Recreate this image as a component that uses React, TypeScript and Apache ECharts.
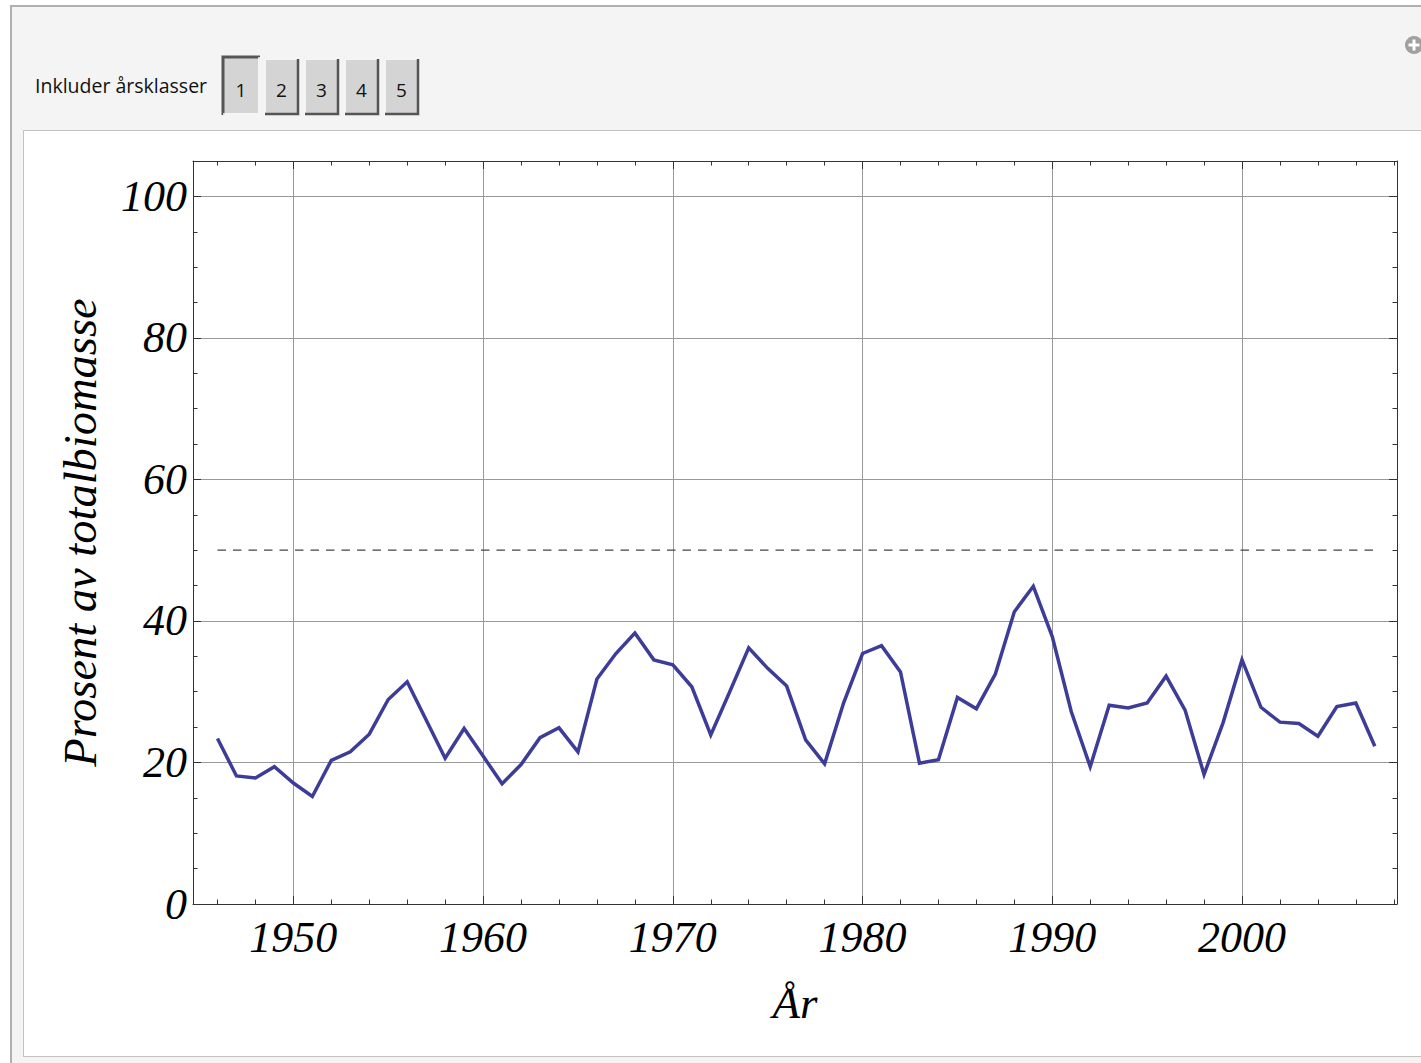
import React, { useEffect, useRef } from "react";
import * as echarts from "echarts";

// ---- data ----
const years = [
  1946, 1947, 1948, 1949, 1950, 1951, 1952, 1953, 1954, 1955, 1956, 1957, 1958, 1959,
  1960, 1961, 1962, 1963, 1964, 1965, 1966, 1967, 1968, 1969, 1970, 1971, 1972, 1973,
  1974, 1975, 1976, 1977, 1978, 1979, 1980, 1981, 1982, 1983, 1984, 1985, 1986, 1987,
  1988, 1989, 1990, 1991, 1992, 1993, 1994, 1995, 1996, 1997, 1998, 1999, 2000, 2001,
  2002, 2003, 2004, 2005, 2006, 2007,
];
const values = [
  23.4, 18.1, 17.8, 19.4, 17.1, 15.2, 20.3, 21.5, 24.0, 28.9, 31.4, 26.0, 20.6, 24.8,
  20.9, 17.0, 19.7, 23.5, 24.9, 21.5, 31.8, 35.4, 38.3, 34.5, 33.8, 30.7, 23.9, 30.0,
  36.2, 33.3, 30.8, 23.2, 19.8, 28.4, 35.4, 36.5, 32.8, 19.9, 20.4, 29.2, 27.6, 32.5,
  41.3, 44.9, 37.8, 27.2, 19.4, 28.1, 27.7, 28.4, 32.2, 27.4, 18.3, 25.6, 34.5, 27.8,
  25.7, 25.5, 23.7, 27.9, 28.4, 22.3,
];
const thresholdYears = [1946, 2007];
const thresholdValue = 50;

const xMajorTicks = [1950, 1960, 1970, 1980, 1990, 2000];
const xMinorTicks = [
  1946, 1948, 1950, 1952, 1954, 1956, 1958, 1960, 1962, 1964, 1966, 1968, 1970, 1972,
  1974, 1976, 1978, 1980, 1982, 1984, 1986, 1988, 1990, 1992, 1994, 1996, 1998, 2000,
  2002, 2004, 2006, 2008,
];
const yMajorTicks = [0, 20, 40, 60, 80, 100];
const yMinorTicks = [
  0, 5, 10, 15, 20, 25, 30, 35, 40, 45, 50, 55, 60, 65, 70, 75, 80, 85, 90, 95, 100,
];
const buttonLabels = ["1", "2", "3", "4", "5"];
const controlLabel = "Inkluder årsklasser";
const xTitle = "År";
const yTitle = "Prosent av totalbiomasse";

const X_MIN = 1944.71;
const X_MAX = 2008.17;
const Y_MIN = 0;
const Y_MAX = 105;

const SERIF = "'Liberation Serif', 'Times New Roman', serif";
const SANS = "'Open Sans', 'Noto Sans', sans-serif";
const FRAME = "#333333";
const GRID = "#999999";

function buildButtons(): any[] {
  const els: any[] = [];
  const xs = [222, 264, 304, 344, 384];
  const ws = [38, 35, 35, 35, 35];
  buttonLabels.forEach((lab, i) => {
    const pressed = i === 0;
    const x = xs[i];
    const w = ws[i];
    const y = pressed ? 56 : 58;
    const h = 115 - y;
    els.push({
      type: "rect",
      shape: { x, y, width: w, height: h },
      style: { fill: "#d4d4d4" },
      z: 1,
    });
    const dark = "#555555";
    const light = "#ffffff";
    els.push({
      type: "polyline",
      shape: { points: [[x + 1, y + h], [x + 1, y + 1], [x + w, y + 1]] },
      style: { stroke: pressed ? dark : light, lineWidth: pressed ? 3 : 1.5, fill: null },
      z: 2,
    });
    els.push({
      type: "polyline",
      shape: { points: [[x + 1, y + h - 1], [x + w - 1, y + h - 1], [x + w - 1, y + 1]] },
      style: { stroke: pressed ? light : dark, lineWidth: pressed ? 1.5 : 2.5, fill: null },
      z: 2,
    });
    els.push({
      type: "text",
      x: x + w / 2,
      y: 89.5,
      style: {
        text: lab,
        fill: "#111",
        font: `19px ${SANS}`,
        align: "center",
        verticalAlign: "middle",
      },
      z: 3,
    });
  });
  return els;
}

export default function App() {
  const ref = useRef<HTMLDivElement>(null);

  useEffect(() => {
    if (!ref.current) return;
    const chart = echarts.init(ref.current, undefined, { renderer: "svg" });

    const lineData = years.map((y, i) => [y, values[i]]);
    const thresholdData = thresholdYears.map((y) => [y, thresholdValue]);

    const tickLabelStyle = {
      fontFamily: SERIF,
      fontStyle: "italic" as const,
      fontSize: 44,
      color: "#000",
      lineHeight: 44,
    };

    const baseX = (position: "top" | "bottom") => ({
      type: "value" as const,
      position,
      min: X_MIN,
      max: X_MAX,
      axisLine: { show: true, onZero: false, lineStyle: { color: FRAME, width: 1 } },
      splitLine: { show: false },
      axisLabel: { show: false },
    });
    const baseY = (position: "left" | "right") => ({
      type: "value" as const,
      position,
      min: Y_MIN,
      max: Y_MAX,
      axisLine: { show: true, onZero: false, lineStyle: { color: FRAME, width: 1 } },
      splitLine: { show: false },
      axisLabel: { show: false },
    });
    const hiddenLine = { show: false, onZero: false };

    const option: any = {
      animation: false,
      backgroundColor: "transparent",
      grid: { left: 193, top: 161, width: 1204, height: 743, containLabel: false },
      graphic: {
        elements: [
          {
            type: "rect",
            shape: { x: 11, y: 6, width: 1500, height: 1200 },
            style: { fill: "#f4f4f4", stroke: "#b0b0b0", lineWidth: 2 },
            z: -100,
            silent: true,
          },
          {
            type: "rect",
            shape: { x: 23.5, y: 130.5, width: 1500, height: 926 },
            style: { fill: "#ffffff", stroke: "#8a8a8a", lineWidth: 1, lineDash: [1, 1] },
            z: -99,
            silent: true,
          },
          {
            type: "text",
            x: 35,
            y: 85.5,
            style: {
              text: controlLabel,
              fill: "#111",
              font: `19.5px ${SANS}`,
              align: "left",
              verticalAlign: "middle",
            },
            z: 3,
          },
          ...buildButtons(),
          {
            type: "circle",
            shape: { cx: 1414, cy: 45, r: 9 },
            style: { fill: "#a0a0a0" },
            z: 3,
          },
          {
            type: "line",
            shape: { x1: 1408.5, y1: 45, x2: 1419.5, y2: 45 },
            style: { stroke: "#fff", lineWidth: 3 },
            z: 4,
          },
          {
            type: "line",
            shape: { x1: 1414, y1: 39.5, x2: 1414, y2: 50.5 },
            style: { stroke: "#fff", lineWidth: 3 },
            z: 4,
          },
        ],
      },
      xAxis: [
        {
          ...baseX("bottom"),
          name: xTitle,
          nameLocation: "middle",
          nameGap: 76,
          nameTextStyle: { ...tickLabelStyle, fontSize: 45, lineHeight: 45 },
          axisTick: {
            show: true,
            inside: true,
            length: 8,
            customValues: xMajorTicks,
            lineStyle: { color: FRAME, width: 1 },
          },
          axisLabel: {
            show: true,
            customValues: xMajorTicks,
            margin: 11,
            formatter: (v: number) => String(Math.round(v)),
            ...tickLabelStyle,
          },
          splitLine: { show: true, lineStyle: { color: GRID, width: 1 } },
        },
        {
          ...baseX("bottom"),
          axisLine: hiddenLine,
          axisTick: {
            show: true,
            inside: true,
            length: 4.5,
            customValues: xMinorTicks,
            lineStyle: { color: FRAME, width: 1 },
          },
        },
        {
          ...baseX("top"),
          axisTick: {
            show: true,
            inside: true,
            length: 8,
            customValues: xMajorTicks,
            lineStyle: { color: FRAME, width: 1 },
          },
        },
        {
          ...baseX("top"),
          axisLine: hiddenLine,
          axisTick: {
            show: true,
            inside: true,
            length: 4.5,
            customValues: xMinorTicks,
            lineStyle: { color: FRAME, width: 1 },
          },
        },
      ],
      yAxis: [
        {
          ...baseY("left"),
          name: yTitle,
          nameLocation: "middle",
          nameRotate: 90,
          nameGap: 89,
          nameTextStyle: { ...tickLabelStyle, fontSize: 46.5, lineHeight: 46.5 },
          axisTick: {
            show: true,
            inside: true,
            length: 8,
            customValues: yMajorTicks,
            lineStyle: { color: FRAME, width: 1 },
          },
          axisLabel: {
            show: true,
            customValues: yMajorTicks,
            margin: 6,
            formatter: (v: number) => String(Math.round(v)),
            ...tickLabelStyle,
          },
          splitLine: { show: true, lineStyle: { color: GRID, width: 1 } },
        },
        {
          ...baseY("left"),
          axisLine: hiddenLine,
          axisTick: {
            show: true,
            inside: true,
            length: 4.5,
            customValues: yMinorTicks,
            lineStyle: { color: FRAME, width: 1 },
          },
        },
        {
          ...baseY("right"),
          axisTick: {
            show: true,
            inside: true,
            length: 8,
            customValues: yMajorTicks,
            lineStyle: { color: FRAME, width: 1 },
          },
        },
        {
          ...baseY("right"),
          axisLine: hiddenLine,
          axisTick: {
            show: true,
            inside: true,
            length: 4.5,
            customValues: yMinorTicks,
            lineStyle: { color: FRAME, width: 1 },
          },
        },
      ],
      series: [
        {
          type: "line",
          name: "threshold",
          xAxisIndex: 0,
          yAxisIndex: 0,
          data: thresholdData,
          symbol: "none",
          silent: true,
          lineStyle: { color: "#444", width: 1.2, type: [8.5, 7] },
          z: 3,
        },
        {
          type: "line",
          name: "andel",
          xAxisIndex: 0,
          yAxisIndex: 0,
          data: lineData,
          symbol: "none",
          lineStyle: { color: "#3d3d99", width: 3.5, join: "miter" },
          z: 4,
        },
      ],
    };

    chart.setOption(option);
    return () => {
      chart.dispose();
    };
  }, []);

  return (
    <div
      ref={ref}
      style={{ position: "fixed", left: 0, top: 0, width: 1421, height: 1063, background: "#ffffff" }}
    />
  );
}
